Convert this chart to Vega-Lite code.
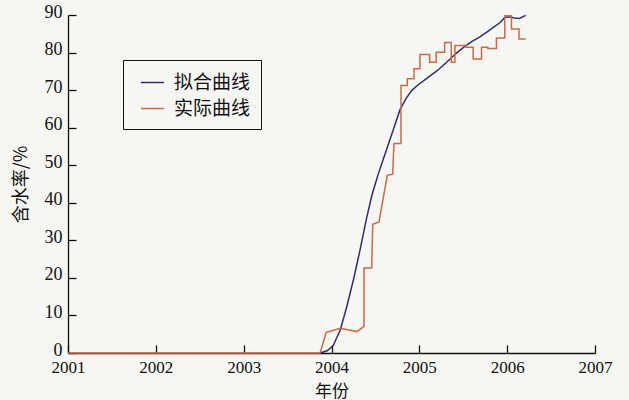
{
  "$schema": "https://vega.github.io/schema/vega-lite/v6.json",
  "width": 527,
  "height": 338,
  "autosize": "none",
  "padding": {"left": 68, "top": 15, "right": 34, "bottom": 47},
  "background": "#f6f6f3",
  "config": {
    "view": {"stroke": null},
    "font": "Liberation Serif",
    "axis": {"grid": false, "domainColor": "#111111", "tickColor": "#111111", "labelColor": "#111111", "titleColor": "#111111", "labelFont": "Liberation Serif", "labelFontSize": 18, "titleFont": "Noto Sans CJK SC", "titleFontSize": 17, "titleFontWeight": "normal", "domainWidth": 1.3, "tickWidth": 1.3}
  },
  "data": {
    "values": [
      {"s": "拟合曲线", "i": 0, "year": 2003.87, "v": 0},
      {"s": "拟合曲线", "i": 1, "year": 2003.95, "v": 0.6},
      {"s": "拟合曲线", "i": 2, "year": 2004.02, "v": 2.0},
      {"s": "拟合曲线", "i": 3, "year": 2004.10, "v": 6.2},
      {"s": "拟合曲线", "i": 4, "year": 2004.17, "v": 12.0},
      {"s": "拟合曲线", "i": 5, "year": 2004.25, "v": 19.5},
      {"s": "拟合曲线", "i": 6, "year": 2004.33, "v": 28.0},
      {"s": "拟合曲线", "i": 7, "year": 2004.40, "v": 36.0},
      {"s": "拟合曲线", "i": 8, "year": 2004.46, "v": 42.0},
      {"s": "拟合曲线", "i": 9, "year": 2004.53, "v": 47.5},
      {"s": "拟合曲线", "i": 10, "year": 2004.60, "v": 52.3},
      {"s": "拟合曲线", "i": 11, "year": 2004.69, "v": 58.5},
      {"s": "拟合曲线", "i": 12, "year": 2004.78, "v": 64.8},
      {"s": "拟合曲线", "i": 13, "year": 2004.85, "v": 67.8},
      {"s": "拟合曲线", "i": 14, "year": 2004.91, "v": 69.8},
      {"s": "拟合曲线", "i": 15, "year": 2004.98, "v": 71.3},
      {"s": "拟合曲线", "i": 16, "year": 2005.10, "v": 73.4},
      {"s": "拟合曲线", "i": 17, "year": 2005.21, "v": 75.3},
      {"s": "拟合曲线", "i": 18, "year": 2005.32, "v": 77.6},
      {"s": "拟合曲线", "i": 19, "year": 2005.42, "v": 79.8},
      {"s": "拟合曲线", "i": 20, "year": 2005.51, "v": 81.5},
      {"s": "拟合曲线", "i": 21, "year": 2005.60, "v": 83.0},
      {"s": "拟合曲线", "i": 22, "year": 2005.69, "v": 84.2},
      {"s": "拟合曲线", "i": 23, "year": 2005.80, "v": 86.0},
      {"s": "拟合曲线", "i": 24, "year": 2005.92, "v": 88.0},
      {"s": "拟合曲线", "i": 25, "year": 2005.97, "v": 89.3},
      {"s": "拟合曲线", "i": 26, "year": 2006.02, "v": 89.5},
      {"s": "拟合曲线", "i": 27, "year": 2006.08, "v": 89.2},
      {"s": "拟合曲线", "i": 28, "year": 2006.14, "v": 89.1},
      {"s": "拟合曲线", "i": 29, "year": 2006.21, "v": 89.9},
      {"s": "实际曲线", "i": 0, "year": 2001.0, "v": 0},
      {"s": "实际曲线", "i": 1, "year": 2003.87, "v": 0},
      {"s": "实际曲线", "i": 2, "year": 2003.94, "v": 5.5},
      {"s": "实际曲线", "i": 3, "year": 2004.10, "v": 6.6},
      {"s": "实际曲线", "i": 4, "year": 2004.29, "v": 5.7},
      {"s": "实际曲线", "i": 5, "year": 2004.37, "v": 7.1},
      {"s": "实际曲线", "i": 6, "year": 2004.37, "v": 22.6},
      {"s": "实际曲线", "i": 7, "year": 2004.458, "v": 22.6},
      {"s": "实际曲线", "i": 8, "year": 2004.469, "v": 34.3},
      {"s": "实际曲线", "i": 9, "year": 2004.541, "v": 34.9},
      {"s": "实际曲线", "i": 10, "year": 2004.635, "v": 47.3},
      {"s": "实际曲线", "i": 11, "year": 2004.697, "v": 47.6},
      {"s": "实际曲线", "i": 12, "year": 2004.711, "v": 55.8},
      {"s": "实际曲线", "i": 13, "year": 2004.791, "v": 55.8},
      {"s": "实际曲线", "i": 14, "year": 2004.791, "v": 71.2},
      {"s": "实际曲线", "i": 15, "year": 2004.863, "v": 71.2},
      {"s": "实际曲线", "i": 16, "year": 2004.863, "v": 73.0},
      {"s": "实际曲线", "i": 17, "year": 2004.939, "v": 73.0},
      {"s": "实际曲线", "i": 18, "year": 2004.939, "v": 75.7},
      {"s": "实际曲线", "i": 19, "year": 2005.007, "v": 75.7},
      {"s": "实际曲线", "i": 20, "year": 2005.007, "v": 79.5},
      {"s": "实际曲线", "i": 21, "year": 2005.117, "v": 79.5},
      {"s": "实际曲线", "i": 22, "year": 2005.117, "v": 77.4},
      {"s": "实际曲线", "i": 23, "year": 2005.192, "v": 77.4},
      {"s": "实际曲线", "i": 24, "year": 2005.192, "v": 80.1},
      {"s": "实际曲线", "i": 25, "year": 2005.288, "v": 80.1},
      {"s": "实际曲线", "i": 26, "year": 2005.288, "v": 82.7},
      {"s": "实际曲线", "i": 27, "year": 2005.363, "v": 82.7},
      {"s": "实际曲线", "i": 28, "year": 2005.363, "v": 77.4},
      {"s": "实际曲线", "i": 29, "year": 2005.405, "v": 77.4},
      {"s": "实际曲线", "i": 30, "year": 2005.405, "v": 81.9},
      {"s": "实际曲线", "i": 31, "year": 2005.530, "v": 81.9},
      {"s": "实际曲线", "i": 32, "year": 2005.530, "v": 81.4},
      {"s": "实际曲线", "i": 33, "year": 2005.613, "v": 81.4},
      {"s": "实际曲线", "i": 34, "year": 2005.613, "v": 78.3},
      {"s": "实际曲线", "i": 35, "year": 2005.708, "v": 78.3},
      {"s": "实际曲线", "i": 36, "year": 2005.708, "v": 81.4},
      {"s": "实际曲线", "i": 37, "year": 2005.780, "v": 81.4},
      {"s": "实际曲线", "i": 38, "year": 2005.780, "v": 81.1},
      {"s": "实际曲线", "i": 39, "year": 2005.878, "v": 81.1},
      {"s": "实际曲线", "i": 40, "year": 2005.878, "v": 83.9},
      {"s": "实际曲线", "i": 41, "year": 2005.973, "v": 83.9},
      {"s": "实际曲线", "i": 42, "year": 2005.973, "v": 89.8},
      {"s": "实际曲线", "i": 43, "year": 2006.049, "v": 89.8},
      {"s": "实际曲线", "i": 44, "year": 2006.049, "v": 86.3},
      {"s": "实际曲线", "i": 45, "year": 2006.135, "v": 86.3},
      {"s": "实际曲线", "i": 46, "year": 2006.135, "v": 83.6},
      {"s": "实际曲线", "i": 47, "year": 2006.211, "v": 83.6}
    ]
  },
  "mark": {"type": "line", "strokeWidth": 1.5},
  "encoding": {
    "x": {
      "field": "year", "type": "quantitative",
      "scale": {"domain": [2001, 2007], "nice": false, "zero": false},
      "axis": {"title": "年份", "values": [2001, 2002, 2003, 2004, 2005, 2006, 2007], "format": "d", "tickSize": -8, "labelPadding": 14, "labelFontSize": 17, "titlePadding": 8, "labelFlush": false}
    },
    "y": {
      "field": "v", "type": "quantitative",
      "scale": {"domain": [0, 90], "nice": false},
      "axis": {"title": "含水率/%", "titleFontSize": 18, "values": [0, 10, 20, 30, 40, 50, 60, 70, 80, 90], "tickSize": -8, "labelPadding": 14, "labelOffset": -3, "titlePadding": 14, "labelFlush": false}
    },
    "color": {
      "field": "s", "type": "nominal",
      "scale": {"domain": ["拟合曲线", "实际曲线"], "range": ["#2e2e6e", "#cc6a44"]},
      "legend": {
        "title": null, "orient": "none", "legendX": 55, "legendY": 45,
        "symbolType": "stroke", "symbolSize": 529, "symbolStrokeWidth": 1.5, "symbolOffset": 7,
        "labelFont": "Noto Sans CJK SC", "labelFontSize": 19, "labelColor": "#111111",
        "labelOffset": 9, "rowPadding": 3, "padding": 10,
        "strokeColor": "#111111", "fillColor": "#f6f6f3"
      }
    },
    "order": {"field": "i", "type": "quantitative"}
  }
}
